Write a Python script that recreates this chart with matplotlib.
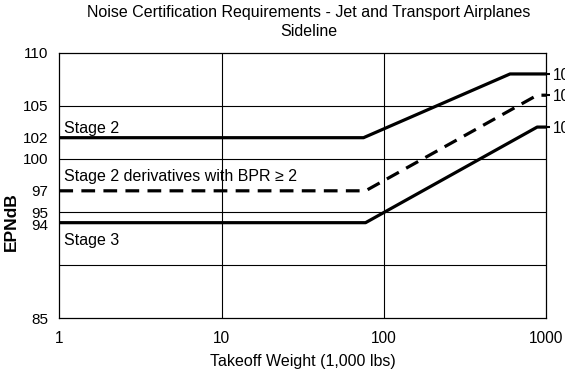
import matplotlib
matplotlib.use("Agg")
import matplotlib.pyplot as plt
from matplotlib.transforms import ScaledTranslation

plt.rcParams['font.family'] = ['Liberation Sans', 'DejaVu Sans']

# Sideline noise limits (EPNdB) vs. takeoff weight (1,000 lbs)
stage2_weight = [1, 75, 600, 1000]
stage2_epn = [102, 102, 108, 108]
deriv_weight = [1, 77.2, 882, 1000]
deriv_epn = [97, 97, 106, 106]
stage3_weight = [1, 77.2, 882, 1000]
stage3_epn = [94, 94, 103, 103]

left_ticks = [110, 105, 102, 100, 97, 95, 94, 85]
right_ticks = [108, 106, 103]
grid_y = [90, 95, 100, 105]
grid_x = [10, 100]
x_ticks = [1, 10, 100, 1000]
x_tick_labels = ['1', '10', '100', '1000']

fig = plt.figure(figsize=(5.65, 3.72), dpi=100)
ax = fig.add_axes([0.105, 0.1444, 0.9664 - 0.105, 0.8583 - 0.1444])

ax.set_xscale('log')
ax.set_xlim(1, 1000)
ax.set_ylim(85, 110)

for y in grid_y:
    ax.axhline(y, color='black', lw=0.8, zorder=1)
for x in grid_x:
    ax.axvline(x, color='black', lw=0.8, zorder=1)

ax.plot(stage2_weight, stage2_epn, color='black', lw=2.3, solid_capstyle='butt', zorder=3)
ax.plot(deriv_weight, deriv_epn, color='black', lw=2.3, dashes=(4.3, 2.6), zorder=3)
ax.plot(stage3_weight, stage3_epn, color='black', lw=2.3, solid_capstyle='butt', zorder=3)

fs = 11.5
ax.text(1.07, 102.9, 'Stage 2', fontsize=fs, va='center', ha='left')
ax.text(1.07, 98.3, 'Stage 2 derivatives with BPR \u2265 2', fontsize=fs, va='center', ha='left')
ax.text(1.07, 92.35, 'Stage 3', fontsize=fs, va='center', ha='left')

ax.set_yticks(left_ticks)
ax.set_yticklabels([str(v) for v in left_ticks])
ax.set_xticks(x_ticks)
ax.set_xticklabels(x_tick_labels)
ax.minorticks_off()
ax.tick_params(axis='y', length=0, pad=8, labelsize=11)
ax.tick_params(axis='x', length=0, pad=9, labelsize=11.2)

# nudge the crowded "94" label down a little
for lab in ax.get_yticklabels():
    if lab.get_text() == '94':
        lab.set_transform(lab.get_transform() + ScaledTranslation(0, -2 / 100, fig.dpi_scale_trans))

for s in ax.spines.values():
    s.set_linewidth(0.9)

ax.set_xlabel('Takeoff Weight (1,000 lbs)', fontsize=fs, labelpad=6)
ax.set_ylabel('EPNdB', fontsize=12.5, fontweight='bold')
ax.yaxis.set_label_coords(-0.084, 0.365)

ax2 = ax.twinx()
ax2.set_ylim(85, 110)
ax2.set_yticks(right_ticks)
ax2.set_yticklabels([str(v) for v in right_ticks])
ax2.tick_params(axis='y', length=3, width=1.5, pad=2, labelsize=11.2)
for s in ax2.spines.values():
    s.set_visible(False)

fig.text(309 / 565, 1 - 13 / 372,
         'Noise Certification Requirements - Jet and Transport Airplanes',
         ha='center', va='center', fontsize=fs)
fig.text(309 / 565, 1 - 31.5 / 372, 'Sideline', ha='center', va='center', fontsize=fs)

fig.savefig('out.png', dpi=100)
